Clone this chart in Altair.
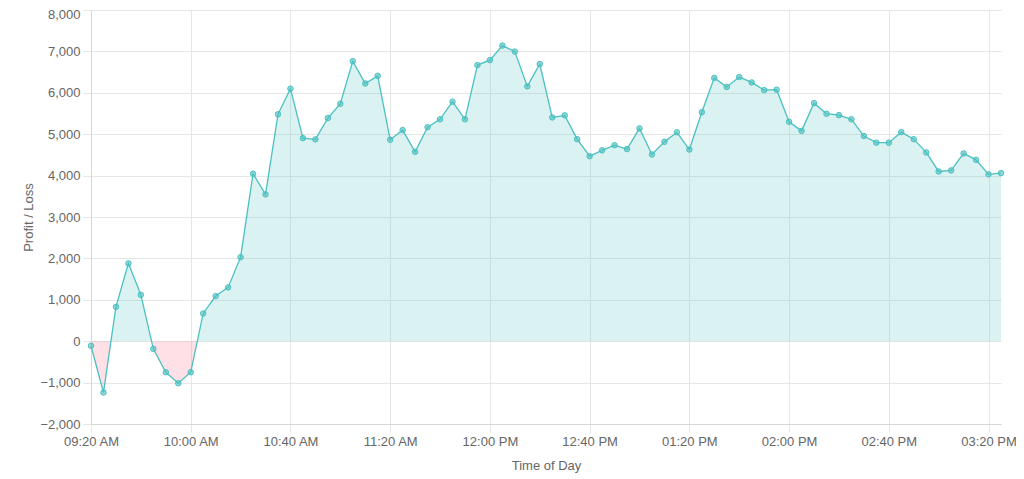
import altair as alt
import pandas as pd

# Time of each observation (5-minute steps)
times = [
    "09:20", "09:25", "09:30", "09:35", "09:40", "09:45", "09:50", "09:55",
    "10:00", "10:05", "10:10", "10:15", "10:20", "10:25", "10:30", "10:35",
    "10:40", "10:45", "10:50", "10:55", "11:00", "11:05", "11:10", "11:15",
    "11:20", "11:25", "11:30", "11:35", "11:40", "11:45", "11:50", "11:55",
    "12:00", "12:05", "12:10", "12:15", "12:20", "12:25", "12:30", "12:35",
    "12:40", "12:45", "12:50", "12:55", "13:00", "13:05", "13:10", "13:15",
    "13:20", "13:25", "13:30", "13:35", "13:40", "13:45", "13:50", "13:55",
    "14:00", "14:05", "14:10", "14:15", "14:20", "14:25", "14:30", "14:35",
    "14:40", "14:45", "14:50", "14:55", "15:00", "15:05", "15:10", "15:15",
    "15:20", "15:25",
]

# Profit / Loss values
pnl = [
    -110, -1240, 830, 1880, 1120, -185, -750, -1015,
    -750, 670, 1090, 1300, 2030, 4045, 3545, 5480,
    6100, 4905, 4875, 5390, 5735, 6765, 6225, 6410,
    4865, 5100, 4575, 5170, 5360, 5785, 5360, 6670,
    6790, 7140, 6995, 6155, 6695, 5405, 5455, 4880,
    4470, 4610, 4735, 4640, 5140, 4510, 4815, 5045,
    4630, 5530, 6360, 6140, 6380, 6250, 6065, 6075,
    5300, 5080, 5750, 5495, 5460, 5360, 4955, 4795,
    4795, 5050, 4880, 4560, 4100, 4125, 4535, 4380,
    4030, 4060,
]

tick_times = ["09:20", "10:00", "10:40", "11:20", "12:00", "12:40",
              "13:20", "14:00", "14:40", "15:20"]
y_ticks = [-2000, -1000, 0, 1000, 2000, 3000, 4000, 5000, 6000, 7000, 8000]

DAY = "2024-01-01"


def ts(hhmm):
    return pd.Timestamp(f"{DAY} {hhmm}")


df = pd.DataFrame({"t": [ts(t) for t in times], "v": pnl})

# Fill geometry: add zero-crossing vertices so the above/below fills split cleanly
rows = []
for i in range(len(df)):
    t0, v0 = df.t[i], df.v[i]
    rows.append((t0, v0))
    if i < len(df) - 1:
        t1, v1 = df.t[i + 1], df.v[i + 1]
        if v0 * v1 < 0:
            frac = v0 / (v0 - v1)
            rows.append((t0 + (t1 - t0) * frac, 0))
fill = pd.DataFrame(rows, columns=["t", "v"])
fill["pos"] = fill.v.clip(lower=0)
fill["neg"] = fill.v.clip(upper=0)
fill["t"] = fill.t.dt.strftime("%Y-%m-%dT%H:%M:%S.%f").str[:-3]

df["t"] = df.t.dt.strftime("%Y-%m-%dT%H:%M:%S")

FONT = "Liberation Sans"
GRID = "#e6e6e6"
TEAL = "#4bc0c0"
PINK = "#ff6384"

tick_vals = [
    alt.DateTime(year=2024, month=1, date=1,
                 hours=int(t[:2]), minutes=int(t[3:]))
    for t in tick_times
]

x_scale = alt.Scale(
    domain=[
        alt.DateTime(year=2024, month=1, date=1, hours=9, minutes=20),
        alt.DateTime(year=2024, month=1, date=1, hours=15, minutes=25),
    ],
    nice=False,
)
y_scale = alt.Scale(domain=[-2000, 8000], nice=False, zero=False)

x_axis = alt.Axis(
    title="Time of Day", values=tick_vals, format="%I:%M %p",
    labelFont=FONT, labelFontSize=13, labelColor="#666",
    titleFont=FONT, titleFontSize=13, titleColor="#666", titleFontWeight="normal",
    titlePadding=11, labelPadding=3, tickSize=8, tickColor=GRID,
    gridColor=GRID, domainColor="#d6d6d6", labelFlush=False,
)
y_axis = alt.Axis(
    title="Profit / Loss", values=y_ticks, format=",.0f",
    labelFont=FONT, labelFontSize=13, labelColor="#666",
    titleFont=FONT, titleFontSize=13, titleColor="#666", titleFontWeight="normal",
    titlePadding=4, labelPadding=3, tickSize=8, tickColor=GRID,
    gridColor=GRID, domainColor="#d6d6d6",
    labelOffset=alt.ExprRef(expr="datum.value === 8000 ? 4 : 0"),
)

base_fill = alt.Chart(fill)

pos_area = base_fill.mark_area(color=TEAL, opacity=0.2).encode(
    x=alt.X("t:T", scale=x_scale, axis=x_axis),
    y=alt.Y("pos:Q", scale=y_scale, axis=y_axis),
    y2=alt.datum(0),
)
neg_area = base_fill.mark_area(color=PINK, opacity=0.2).encode(
    x=alt.X("t:T", scale=x_scale),
    y=alt.Y("neg:Q", scale=y_scale),
    y2=alt.datum(0),
)

base = alt.Chart(df)
line = base.mark_line(color=TEAL, strokeWidth=1.3).encode(
    x=alt.X("t:T", scale=x_scale),
    y=alt.Y("v:Q", scale=y_scale),
)
points = base.mark_point(
    filled=False, fill=TEAL, fillOpacity=0.6, stroke=TEAL,
    strokeWidth=1, size=30, opacity=1,
).encode(
    x=alt.X("t:T", scale=x_scale),
    y=alt.Y("v:Q", scale=y_scale),
)

chart = (
    alt.layer(pos_area, neg_area, line, points)
    .properties(
        width=910,
        height=414,
        autosize=alt.AutoSizeParams(type="none"),
        padding={"left": 83, "top": 2, "right": 15, "bottom": 55},
    )
    .configure_view(stroke=None)
)

chart.save("out.html", embed_options={"renderer": "svg", "actions": False})
